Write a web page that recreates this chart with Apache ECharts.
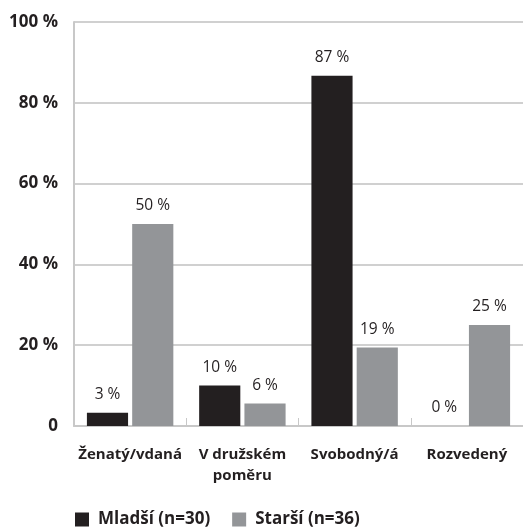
<!DOCTYPE html>
<html>
<head>
<meta charset="utf-8">
<script src="https://cdn.jsdelivr.net/npm/echarts@6/dist/echarts.min.js"></script>
<style>
  html, body { margin: 0; padding: 0; background: #fff; }
  #main { width: 523px; height: 530px; }
</style>
</head>
<body>
<div id="main"></div>
<script>
// kategorie a hodnoty (podíly v %)
var categories = ['Ženatý/vdaná', 'V družském\npoměru', 'Svobodný/á', 'Rozvedený'];
var mladsi = [3.3, 10, 86.7, 0];
var starsi = [50, 5.6, 19.4, 25];
var seriesNames = ['Mladší (n=30)', 'Starší (n=36)'];

var font = '"Open Sans", "Noto Sans", sans-serif';

var chart = echarts.init(document.getElementById('main'));

var labelOpt = {
  show: true,
  position: 'top',
  distance: 10,
  color: '#231f20',
  fontFamily: font,
  fontSize: 15.5,
  formatter: function (p) { return Math.round(p.value) + ' %'; }
};

var option = {
  animation: false,
  textStyle: { fontFamily: font },
  grid: { left: 74, right: 0, top: 22, bottom: 104 },
  legend: {
    bottom: -3,
    left: 70,
    itemWidth: 14,
    itemHeight: 14,
    itemGap: 22,
    icon: 'rect',
    textStyle: { fontFamily: font, fontSize: 17, fontWeight: 'bold', color: '#231f20', padding: [0, 0, 0, 4] },
    data: seriesNames
  },
  xAxis: {
    type: 'category',
    data: categories,
    axisLine: { lineStyle: { color: '#c8c8c8', width: 2 } },
    axisTick: { show: true, inside: true, length: 8, lineStyle: { color: '#c8c8c8', width: 1 } },
    axisLabel: {
      margin: 18,
      color: '#231f20',
      fontFamily: font,
      fontSize: 15,
      fontWeight: 'bold',
      lineHeight: 21,
      interval: 0
    }
  },
  yAxis: {
    type: 'value',
    min: 0,
    max: 100,
    interval: 20,
    axisLine: { show: true, lineStyle: { color: '#c8c8c8', width: 2 } },
    axisTick: { show: false },
    splitLine: { lineStyle: { color: '#d0d0d0', width: 2 } },
    axisLabel: {
      margin: 16,
      color: '#231f20',
      fontFamily: font,
      fontSize: 17,
      fontWeight: 'bold',
      formatter: function (v) { return v === 0 ? '0' : v + ' %'; }
    }
  },
  series: [
    {
      name: seriesNames[0],
      type: 'bar',
      data: mladsi,
      itemStyle: { color: '#231f20' },
      barGap: '10%',
      barCategoryGap: '23%',
      label: labelOpt
    },
    {
      name: seriesNames[1],
      type: 'bar',
      data: starsi,
      itemStyle: { color: '#939598' },
      label: labelOpt
    }
  ]
};

chart.setOption(option);
</script>
</body>
</html>
